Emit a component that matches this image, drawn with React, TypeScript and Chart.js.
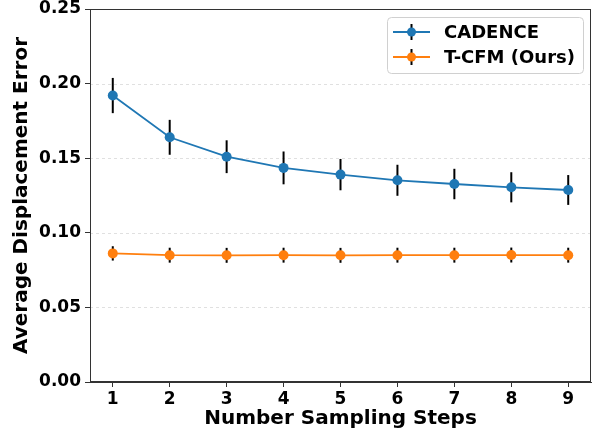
import React, { useEffect, useRef } from "react";
import { Chart, registerables } from "chart.js";
Chart.register(...registerables);

const steps = [1, 2, 3, 4, 5, 6, 7, 8, 9];
const cadenceMean = [0.192, 0.164, 0.151, 0.1435, 0.139, 0.1352, 0.1327, 0.1305, 0.1287];
const cadenceErr = [0.0118, 0.0117, 0.011, 0.011, 0.0105, 0.0104, 0.0102, 0.0101, 0.01];
const tcfmMean = [0.0862, 0.085, 0.0849, 0.085, 0.0849, 0.085, 0.085, 0.0851, 0.085];
const tcfmErr = [0.0048, 0.005, 0.005, 0.005, 0.005, 0.005, 0.005, 0.005, 0.005];
const yTicks = [0, 0.05, 0.1, 0.15, 0.2, 0.25];
const seriesNames = ["CADENCE", "T-CFM (Ours)"];
const seriesColors = ["#1f77b4", "#ff7f0e"];

const FONT = "'DejaVu Sans', sans-serif";

const errorBarPlugin = {
  id: "errbars",
  beforeDatasetsDraw(chart: any) {
    const { ctx, chartArea, scales } = chart;
    const y = scales.y;
    ctx.save();
    ctx.strokeStyle = "#d9d9d9";
    ctx.lineWidth = 0.8;
    ctx.setLineDash([3, 3]);
    yTicks.forEach((t) => {
      if (t <= 0 || t >= 0.25) return;
      const py = Math.round(y.getPixelForValue(t)) + 0.5;
      ctx.beginPath();
      ctx.moveTo(chartArea.left, py);
      ctx.lineTo(chartArea.right, py);
      ctx.stroke();
    });
    ctx.restore();
    const means = [cadenceMean, tcfmMean];
    const errs = [cadenceErr, tcfmErr];
    chart.data.datasets.forEach((_ds: any, i: number) => {
      const meta = chart.getDatasetMeta(i);
      ctx.save();
      ctx.strokeStyle = "#000";
      ctx.lineWidth = 2;
      meta.data.forEach((pt: any, j: number) => {
        const v = means[i][j];
        const e = errs[i][j];
        ctx.beginPath();
        ctx.moveTo(pt.x, y.getPixelForValue(v + e));
        ctx.lineTo(pt.x, y.getPixelForValue(v - e));
        ctx.stroke();
      });
      ctx.restore();
    });
  },
  afterDraw(chart: any) {
    const { ctx, chartArea } = chart;
    ctx.save();
    ctx.strokeStyle = "#333";
    ctx.lineWidth = 1;
    ctx.strokeRect(chartArea.left + 0.5, chartArea.top + 0.5, chartArea.right - chartArea.left - 1, chartArea.bottom - chartArea.top - 1);
    const lx = 387, ly = 17, lw = 196, lh = 56;
    ctx.fillStyle = "rgba(255,255,255,0.85)";
    ctx.strokeStyle = "#d0d0d0";
    ctx.lineWidth = 1;
    ctx.beginPath();
    (ctx as any).roundRect(lx + 0.5, ly + 0.5, lw, lh, 4);
    ctx.fill();
    ctx.stroke();
    ctx.font = `bold 18px ${FONT}`;
    ctx.textBaseline = "middle";
    seriesNames.forEach((name, i) => {
      const cy = ly + 15 + i * 25;
      ctx.strokeStyle = seriesColors[i];
      ctx.lineWidth = 1.8;
      ctx.beginPath();
      ctx.moveTo(393, cy);
      ctx.lineTo(430, cy);
      ctx.stroke();
      ctx.strokeStyle = "#000";
      ctx.lineWidth = 2;
      ctx.beginPath();
      ctx.moveTo(411.5, cy - 8);
      ctx.lineTo(411.5, cy + 8);
      ctx.stroke();
      ctx.fillStyle = seriesColors[i];
      ctx.beginPath();
      ctx.arc(411.5, cy, 4.5, 0, Math.PI * 2);
      ctx.fill();
      ctx.fillStyle = "#000";
      ctx.fillText(name, 444, cy + 1);
    });
    ctx.restore();
  },
};

export default function App() {
  const ref = useRef<HTMLCanvasElement>(null);
  useEffect(() => {
    const mk = (i: number, arr: number[]) => ({
      label: seriesNames[i],
      data: arr.map((v, j) => ({ x: steps[j], y: v })),
      borderColor: seriesColors[i],
      backgroundColor: seriesColors[i],
      borderWidth: 1.8,
      pointRadius: 5,
      pointBorderWidth: 0,
    });
    const chart = new Chart(ref.current!, {
      type: "line",
      data: { datasets: [mk(0, cadenceMean), mk(1, tcfmMean)] },
      options: {
        animation: false,
        responsive: false,
        maintainAspectRatio: false,
        layout: { padding: { top: 9, right: 4, left: 0, bottom: 0 } },
        plugins: { legend: { display: false }, tooltip: { enabled: false } },
        scales: {
          x: {
            type: "linear",
            min: 0.6,
            max: 9.4,
            afterBuildTicks: (s: any) => {
              s.ticks = steps.map((v) => ({ value: v }));
            },
            afterFit: (s: any) => {
              s.height = 49;
              s.paddingLeft = 0;
              s.paddingRight = 0;
            },
            ticks: {
              color: "#000",
              font: { family: FONT, size: 17, weight: "bold" },
              padding: 2,
              callback: (v: any) => String(v),
            },
            grid: { drawOnChartArea: false, drawTicks: true, tickLength: 5, tickColor: "#333", tickWidth: 1 },
            border: { display: true, color: "#333" },
            title: {
              display: true,
              text: "Number Sampling Steps",
              color: "#000",
              font: { family: FONT, size: 20, weight: "bold" },
              padding: { top: 0, bottom: 0 },
            },
          },
          y: {
            min: 0,
            max: 0.25,
            afterBuildTicks: (s: any) => {
              s.ticks = yTicks.map((v) => ({ value: v }));
            },
            afterFit: (s: any) => {
              s.width = 90;
              s.paddingTop = 0;
              s.paddingBottom = 0;
            },
            ticks: {
              color: "#000",
              font: { family: FONT, size: 17, weight: "bold" },
              padding: 4,
              callback: (v: any) => Number(v).toFixed(2),
            },
            grid: { drawOnChartArea: false, drawTicks: true, tickLength: 5, tickColor: "#333", tickWidth: 1 },
            border: { display: true, color: "#333" },
            title: {
              display: true,
              text: "Average Displacement Error",
              color: "#000",
              font: { family: FONT, size: 20, weight: "bold" },
              padding: { top: 10, bottom: 4 },
            },
          },
        },
      },
      plugins: [errorBarPlugin],
    } as any);
    return () => chart.destroy();
  }, []);
  return (
    <div style={{ position: "fixed", left: 0, top: 0, width: 596, height: 431, background: "#fff" }}>
      <canvas ref={ref} width={596} height={431} style={{ display: "block", width: 596, height: 431 }} />
    </div>
  );
}
